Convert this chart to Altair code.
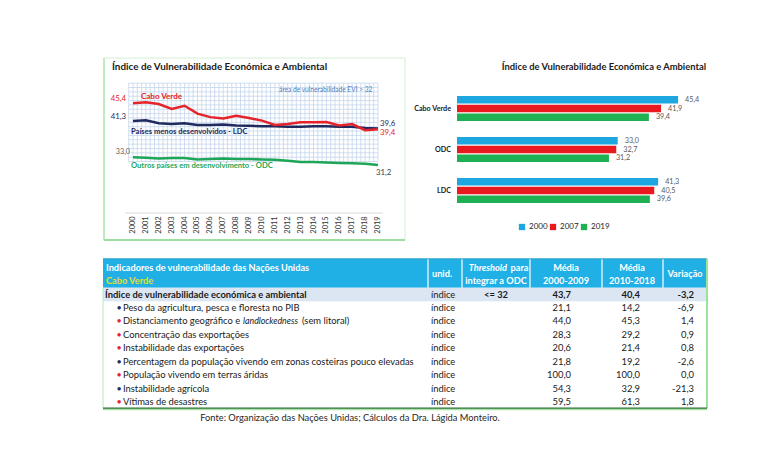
import altair as alt
import pandas as pd

# ---------------- data ----------------
years = list(range(2000, 2020))
cabo_verde = [45.4, 45.6, 45.2, 44.1, 44.8, 43.0, 42.2, 41.9, 42.5, 42.0,
              41.4, 40.4, 40.6, 41.0, 41.0, 41.1, 40.3, 40.6, 39.2, 39.4]
ldc = [41.3, 41.5, 40.8, 40.6, 40.8, 40.4, 40.4, 40.5, 40.3, 40.2,
       40.1, 40.1, 40.0, 40.0, 40.1, 40.1, 40.0, 40.0, 39.7, 39.6]
odc = [33.0, 32.85, 32.7, 32.8, 32.8, 32.5, 32.6, 32.7, 32.6, 32.6,
       32.5, 32.4, 32.2, 31.9, 31.9, 31.8, 31.7, 31.6, 31.5, 31.2]
series_names = ["ODC", "LDC", "Cabo Verde"]

bar_groups = ["Cabo Verde", "ODC", "LDC"]
bar_years = ["2000", "2007", "2019"]
bar_cabo_verde = [45.4, 41.9, 39.4]
bar_odc = [33.0, 32.7, 31.2]
bar_ldc = [41.3, 40.5, 39.6]

chart_title = "Índice de Vulnerabilidade Económica e Ambiental"
table_title = "Indicadores de vulnerabilidade das Nações Unidas"
table_country = "Cabo Verde"
indicators = [
    "Índice de vulnerabilidade económica e ambiental",
    "Peso da agricultura, pesca e floresta no PIB",
    "Distanciamento geográfico e landlockedness (sem litoral)",
    "Concentração das exportações",
    "Instabilidade das exportações",
    "Percentagem da população vivendo em zonas costeiras pouco elevadas",
    "População vivendo em terras áridas",
    "Instabilidade agrícola",
    "Vítimas de desastres",
]
units = ["índice"] * 9
threshold = ["<= 32", "", "", "", "", "", "", "", ""]
media_2000_2009 = [43.7, 21.1, 44.0, 28.3, 20.6, 21.8, 100.0, 54.3, 59.5]
media_2010_2018 = [40.4, 14.2, 45.3, 29.2, 21.4, 19.2, 100.0, 32.9, 61.3]
variacao = [-3.2, -6.9, 1.4, 0.9, 0.8, -2.6, 0.0, -21.3, 1.8]
footer = "Fonte: Organização das Nações Unidas; Cálculos da Dra. Lágida Monteiro."

# ---------------- style / layout ----------------
FONT = "Lato"
RED = "#e5232a"
NAVY = "#1f2a5e"
GREEN = "#1fa558"
BAR_COLORS = ["#1ea6e1", "#e8191f", "#1db153"]
GRID = "#c4d6ec"
HEADER = "#20b0e6"
YELLOW = "#e6dc30"
TXT = 9.4
bullet_colors = [None, NAVY, RED, RED, RED, NAVY, RED, NAVY, RED]


def px(v):
    """page pixel -> plot pixel (page margin 8px)"""
    return v - 8


def fmt(v):
    return f"{v:.1f}".replace(".", ",")


one = pd.DataFrame({"a": [0]})


def label(text, x, y, align="left", size=9, color="#1a1a1a", weight="normal",
          style="normal"):
    return alt.Chart(one).mark_text(
        text=text, align=align, baseline="middle", fontSize=size, color=color,
        fontWeight=weight, fontStyle=style, font=FONT
    ).encode(x=alt.value(px(x)), y=alt.value(px(y)))


# ================= Panel A: line chart =================
xA = alt.Scale(domain=[2000, 2019], range=[px(133), px(378)], nice=False, zero=False)
yA = alt.Scale(domain=[14, 56], range=[px(240), px(57)], nice=False, zero=False)

line_df = pd.DataFrame({
    "year": years * 3,
    "value": odc + ldc + cabo_verde,
    "series": ["ODC"] * 20 + ["LDC"] * 20 + ["Cabo Verde"] * 20,
})

frameA = alt.Chart(one).mark_rect(fill="white", stroke="#d2f0d2", strokeWidth=1).encode(
    x=alt.value(px(104)), x2=alt.value(px(405)), y=alt.value(px(58)), y2=alt.value(px(240)))
frameA_left = alt.Chart(one).mark_rule(color="#b2e6b2", strokeWidth=1.5).encode(
    x=alt.value(px(104)), y=alt.value(px(58)), y2=alt.value(px(240)))
frameA_bottom = alt.Chart(one).mark_rule(color="#9ddf9d", strokeWidth=2).encode(
    x=alt.value(px(104)), x2=alt.value(px(405)), y=alt.value(px(240)))

gx = [2000 + k / 3 for k in range(-1, 58)]
gy = list(range(32, 51))
gridv = alt.Chart(pd.DataFrame({"gx": gx, "g1": [32] * len(gx), "g2": [50] * len(gx)})).mark_rule(
    color=GRID, strokeWidth=0.8).encode(
    x=alt.X("gx:Q", scale=xA, axis=None),
    y=alt.Y("g1:Q", scale=yA, axis=None), y2="g2:Q")
gridh = alt.Chart(pd.DataFrame({"gy": gy, "h1": [gx[0]] * len(gy), "h2": [gx[-1]] * len(gy)})).mark_rule(
    color=GRID, strokeWidth=0.8).encode(
    y=alt.Y("gy:Q", scale=yA, axis=None),
    x=alt.X("h1:Q", scale=xA, axis=None), x2="h2:Q")

baseline = alt.Chart(one).mark_rule(color="#d9d9d9", strokeWidth=1).encode(
    x=alt.value(px(125)), x2=alt.value(px(383)), y=alt.value(px(213)))

year_labels = alt.Chart(pd.DataFrame({"year": [str(y) for y in years], "yq": years})).mark_text(
    angle=270, fontSize=7.5, color="#333333", font=FONT, baseline="middle", align="center"
).encode(x=alt.X("yq:Q", scale=xA, axis=None), y=alt.value(px(225)), text="year:N")

lines = alt.Chart(line_df).mark_line(strokeWidth=2.5).encode(
    x=alt.X("year:Q", scale=xA, axis=None),
    y=alt.Y("value:Q", scale=yA, axis=None),
    color=alt.Color("series:N", scale=alt.Scale(domain=series_names, range=[GREEN, NAVY, RED]),
                    legend=None),
    order=alt.Order("year:Q"),
)


def point_label(text, year, value, dx, dy, align, color, size=7.8):
    df = pd.DataFrame({"yr": [year], "v": [value], "t": [text]})
    return alt.Chart(df).mark_text(
        align=align, baseline="middle", dx=dx, dy=dy, fontSize=size,
        color=color, font=FONT
    ).encode(x=alt.X("yr:Q", scale=xA, axis=None), y=alt.Y("v:Q", scale=yA, axis=None),
             text="t:N")


panelA = alt.layer(
    frameA, frameA_left, frameA_bottom, gridv, gridh, baseline, year_labels, lines,
    point_label(fmt(cabo_verde[0]), 2000, cabo_verde[0], -7, -4, "right", RED),
    point_label(fmt(ldc[0]), 2000, ldc[0], -7, -4, "right", NAVY),
    point_label(fmt(odc[0]), 2000, odc[0], -3, -5, "right", "#595959", 7.2),
    point_label(fmt(ldc[-1]), 2019, ldc[-1], 2, -4, "left", NAVY),
    point_label(fmt(cabo_verde[-1]), 2019, cabo_verde[-1], 2, 4, "left", RED),
    point_label(fmt(odc[-1]), 2019, odc[-1], -2, 8, "left", "#404040"),
    label(chart_title, 112, 67, size=9.9, weight="bold"),
    label("área de vulnerabilidade  EVI > 32", 279, 90, size=6.6, color="#4f7fbf"),
    label("Cabo Verde", 141, 97, size=8, color=RED, weight="bold"),
    label("Países menos desenvolvidos - LDC", 131, 132, size=7.6, color=NAVY, weight="bold"),
    label("Outros países em desenvolvimento - ODC", 131, 166, size=7.6, color=GREEN, weight="bold"),
)

# ================= Panel B: bar chart =================
bar_df = pd.DataFrame({
    "group": [g for g in bar_groups for _ in bar_years],
    "year": bar_years * 3,
    "value": bar_cabo_verde + bar_odc + bar_ldc,
})
bar_df["label"] = bar_df["value"].map(fmt)

xB = alt.Scale(domain=[0, 54], range=[px(457), px(720)], nice=False, zero=True)
yB = alt.Scale(domain=bar_groups, range=[px(88), px(211)], paddingInner=0.39, paddingOuter=0.195)
offB = alt.Scale(domain=bar_years, paddingInner=0.15, paddingOuter=0)

bars = alt.Chart(bar_df).mark_bar().encode(
    x=alt.X("value:Q", scale=xB, axis=None),
    y=alt.Y("group:N", scale=yB, axis=None, sort=bar_groups),
    yOffset=alt.YOffset("year:N", scale=offB, sort=bar_years),
    color=alt.Color("year:N", scale=alt.Scale(domain=bar_years, range=BAR_COLORS),
                    legend=alt.Legend(orient="none", legendX=px(518), legendY=px(223),
                                      direction="horizontal", title=None, symbolType="square",
                                      symbolSize=40, symbolStrokeWidth=0, labelFontSize=8,
                                      labelFont=FONT, labelColor="#262626", columnPadding=1,
                                      labelOffset=3)),
)
bar_text = alt.Chart(bar_df).mark_text(align="left", baseline="middle", dx=7, fontSize=7.2,
                                       color="#595959", font=FONT).encode(
    x=alt.X("value:Q", scale=xB, axis=None),
    y=alt.Y("group:N", scale=yB, axis=None, sort=bar_groups),
    yOffset=alt.YOffset("year:N", scale=offB, sort=bar_years),
    text="label:N",
)
cat_text = alt.Chart(pd.DataFrame({"group": bar_groups})).mark_text(
    align="right", baseline="middle", fontSize=7.2, fontWeight="bold", color="#1a1a1a", font=FONT
).encode(x=alt.value(px(451)), y=alt.Y("group:N", scale=yB, axis=None, sort=bar_groups),
         text="group:N")

panelB = alt.layer(
    bars, bar_text, cat_text,
    label(chart_title, 706, 67, align="right", size=9.4, weight="bold"),
)

# ================= Panel T: table =================
yT = alt.Scale(domain=[0, 8], range=[px(294.5), px(402.1)], nice=False, zero=False)
TL, TR = 103, 707
HDR_TOP, HDR_BOT, BOT = -2.65, -0.5, 8.45
C_UNIT, C_THR, C_M1, C_M2, C_VAR = 431, 496, 571, 640, 694


def band(r1, r2, fill):
    return alt.Chart(pd.DataFrame({"r1": [r1], "r2": [r2]})).mark_rect(fill=fill).encode(
        x=alt.value(px(TL)), x2=alt.value(px(TR)),
        y=alt.Y("r1:Q", scale=yT, axis=None), y2="r2:Q")


def vline(x, r1, r2, color, width=1.0):
    return alt.Chart(pd.DataFrame({"r1": [r1], "r2": [r2]})).mark_rule(
        color=color, strokeWidth=width).encode(
        x=alt.value(px(x)), y=alt.Y("r1:Q", scale=yT, axis=None), y2="r2:Q")


def hline(r, color, width=1.0, x1=TL, x2=TR):
    return alt.Chart(pd.DataFrame({"r": [r]})).mark_rule(color=color, strokeWidth=width).encode(
        x=alt.value(px(x1)), x2=alt.value(px(x2)), y=alt.Y("r:Q", scale=yT, axis=None))


def row_text(rows, texts, x, align="left", weight="normal", color="#1a1a1a", size=TXT,
             style="normal"):
    df = pd.DataFrame({"row": rows, "t": texts})
    return alt.Chart(df).mark_text(
        align=align, baseline="middle", fontSize=size, fontWeight=weight, color=color,
        font=FONT, fontStyle=style
    ).encode(x=alt.value(px(x)), y=alt.Y("row:Q", scale=yT, axis=None), text="t:N")


body_rows = list(range(1, 9))
plain_rows = [r for r in body_rows if r != 2]
dist_name = indicators[2]
italic_word = "landlockedness"
pre, post = dist_name.split(italic_word)

layers_T = [
    band(HDR_TOP, HDR_BOT, HEADER),
    band(HDR_BOT, 0.5, "#dce6f2"),
]
for sx in [428, 462, 530, 602, 663]:
    layers_T.append(vline(sx, HDR_TOP, HDR_BOT, "white", 1.2))
HS = 9.2
layers_T += [
    hline(HDR_TOP, "#2aa0c8", 1),
    vline(TR, HDR_TOP, BOT, "#9be39b", 2),
    vline(TL, HDR_BOT, BOT, "#b4e8c4", 1),
    hline(BOT + 0.08, "#a8e4a8", 2),
    hline(BOT, "#2f6f36", 1.3),
    # header texts
    row_text([-2], [table_title], 106, weight="bold", color="white", size=HS),
    row_text([-1], [table_country], 106, weight="bold", color=YELLOW, size=HS),
    row_text([-1.5], ["unid."], 432, weight="bold", color="white", size=HS),
    row_text([-2], ["Threshold"], 507, align="right", weight="bold", color="white", size=HS,
             style="italic"),
    row_text([-2], ["para"], 510.5, weight="bold", color="white", size=HS),
    row_text([-1], ["integrar a ODC"], C_THR, align="center", weight="bold", color="white",
             size=HS),
    row_text([-2, -1], ["Média", "2000-2009"], 566, align="center", weight="bold",
             color="white", size=HS),
    row_text([-2, -1], ["Média", "2010-2018"], 632, align="center", weight="bold",
             color="white", size=HS),
    row_text([-1.5], ["Variação"], 685, align="center", weight="bold", color="white", size=HS),
    # index row
    row_text([0], [indicators[0]], 105, weight="bold"),
    row_text([0], [units[0]], C_UNIT),
    row_text([0], [threshold[0]], C_THR, align="center", weight="bold"),
    row_text([0], [fmt(media_2000_2009[0])], C_M1, align="right", weight="bold"),
    row_text([0], [fmt(media_2010_2018[0])], C_M2, align="right", weight="bold"),
    row_text([0], [fmt(variacao[0])], C_VAR, align="right", weight="bold"),
    # body
    row_text(plain_rows, [indicators[r] for r in plain_rows], 123),
    row_text([2], [pre.rstrip()], 123),
    row_text([2], [italic_word], 243, style="italic", size=8.8),
    row_text([2], [post.strip()], 302),
    row_text(body_rows, [units[r] for r in body_rows], C_UNIT),
    row_text(body_rows, [fmt(media_2000_2009[r]) for r in body_rows], C_M1, align="right"),
    row_text(body_rows, [fmt(media_2010_2018[r]) for r in body_rows], C_M2, align="right"),
    row_text(body_rows, [fmt(variacao[r]) for r in body_rows], C_VAR, align="right"),
]
for col in [NAVY, RED]:
    rows_c = [r for r in body_rows if bullet_colors[r] == col]
    layers_T.append(row_text(rows_c, ["•"] * len(rows_c), 119, align="center", color=col,
                             size=9))
layers_T.append(label(footer, 350, 418, align="center", size=9.3, color="#262626"))

panelT = alt.layer(*layers_T)

chart = alt.layer(panelA, panelB, panelT).resolve_scale(
    x="independent", y="independent", color="independent"
).properties(
    width=744, height=440, padding=0
).configure_view(strokeWidth=0).configure_text(font=FONT)

chart.save("out.html", embed_options={"renderer": "svg", "actions": False})
